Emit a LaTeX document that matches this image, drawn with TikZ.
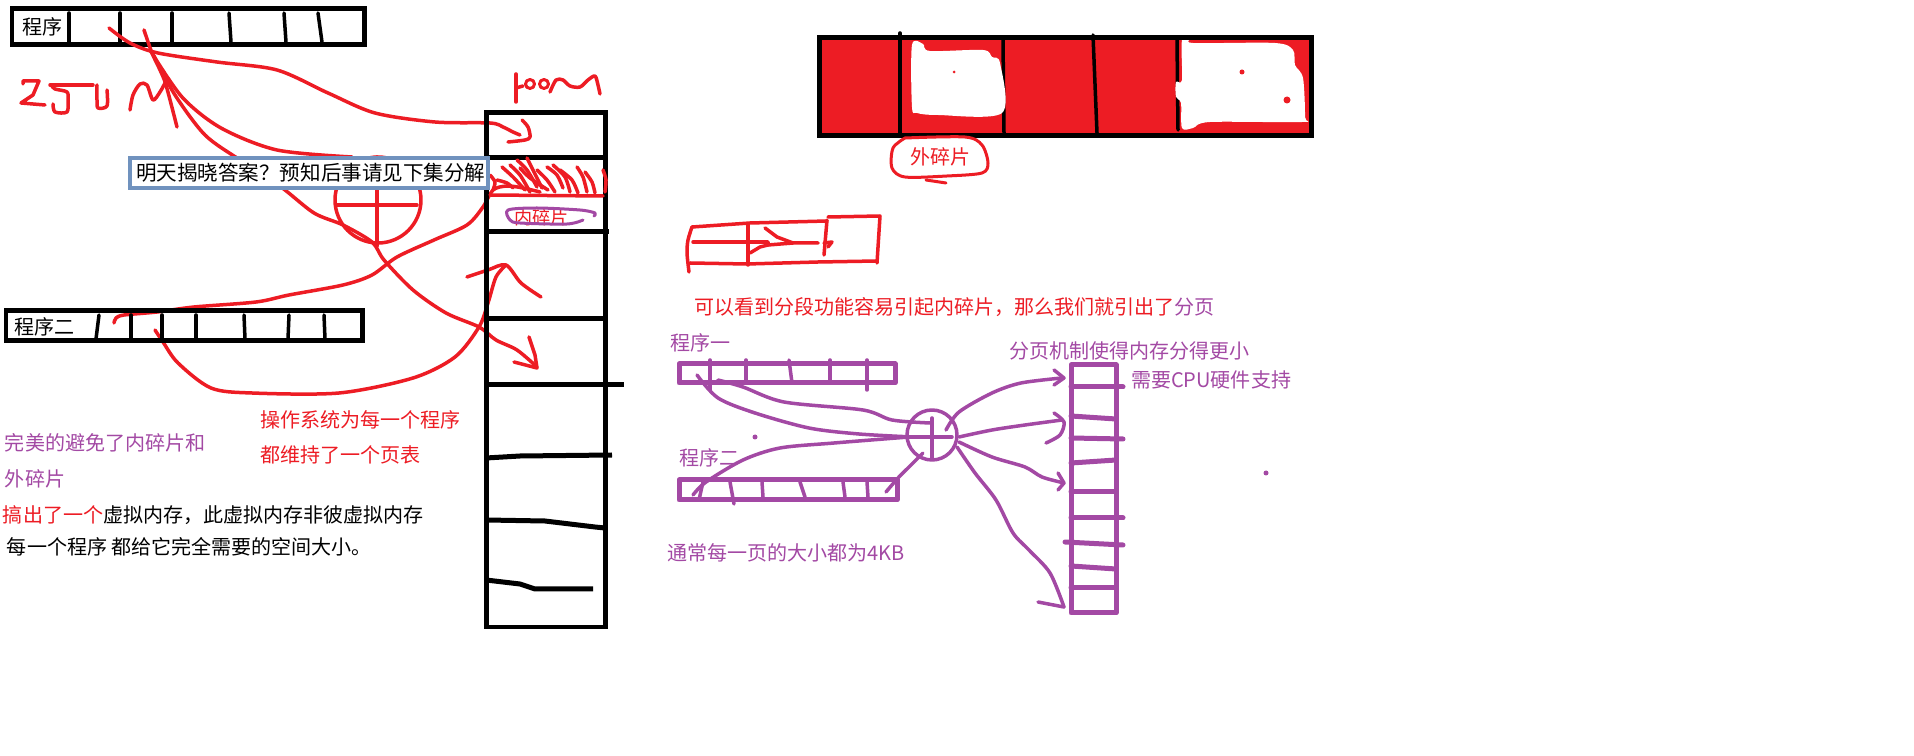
\documentclass[tikz,border=0pt]{standalone}
\usepackage{fontspec}
\setmainfont{Noto Sans CJK SC}
\definecolor{pred}{RGB}{237,28,36}
\definecolor{ppur}{RGB}{163,73,164}
\definecolor{pblue}{RGB}{112,146,190}
\begin{document}
\begin{tikzpicture}[x=0.02cm,y=-0.02cm,
  txt/.style={inner sep=0,outer sep=0,anchor=west,font=\fontsize{11.4}{13}\selectfont},
  box/.style={line width=0.1cm},
  ds/.style={line width=0.07cm,line cap=round},
  rs/.style={pred,line width=0.07cm,line cap=round,line join=round},
  ps/.style={ppur,line width=0.07cm,line cap=round,line join=round},
]
\useasboundingbox[fill=white] (0,0) rectangle (1914,756);

% ---------- top-left program box ----------
\draw[box] (12,9) rectangle (364,45);
\node[txt] (p1) at (22,27) {程序};
\foreach \a/\b in {69/69,120/120,172/172,229/231,284/286,318/322}
  \draw[ds] (\a,13) -- (\b,42);

% ---------- 250M scribble ----------
\draw[rs] (23,84) -- (23,81) -- (39,81) -- (33,95) -- (21,103) -- (45,105);
\draw[rs] (50,85) -- (93,85);
\draw[rs] plot[smooth] coordinates {(52,86) (55,89) (67,92) (68,100) (67,112) (55,112) (53,104)};
\draw[rs] plot[smooth] coordinates {(97,85) (97,100) (98,108) (107,106) (107,90)};
\draw[rs] plot[smooth] coordinates {(130,110) (133,95) (140,84) (147,85) (153,100) (160,92) (165,83)};

% ---------- red curves from program one ----------
\draw[rs] plot[smooth] coordinates {(109,28) (130,43) (158,53) (217,62) (277,70) (328,93) (375,113) (435,122) (490,123) (503,127) (513,132) (520,135)};
\draw[rs] plot[smooth] coordinates {(522,120) (528,127) (530,137) (525,140) (508,142)};
\draw[rs] plot[smooth] coordinates {(144,30) (152,53) (160,70) (166,85) (177,127)};
\draw[rs] plot[smooth] coordinates {(150,50) (182,97) (221,128) (277,150) (352,157)};
\draw[rs] plot[smooth] coordinates {(154,56) (175,95) (205,135) (240,160) (281,187) (314,213) (343,225) (372,242) (384,260) (413,290) (446,313) (479,327) (496,340) (517,350) (537,367)};
\draw[rs] (529,337) -- (535,355) -- (537,368) -- (514,362);

% ---------- red circle with cross ----------
\draw[rs] (378,200) circle[radius=0.86cm];
\draw[rs] (377,157) -- (377,246);
\draw[rs] (337,205) -- (417,205);

% ---------- curves from program two ----------
\draw[rs] plot[smooth] coordinates {(114,323) (116,318) (124,315) (157,312) (194,307) (256,302) (289,295) (343,285) (372,275) (397,257) (434,240) (467,225) (483,207) (493,190) (507,186) (523,188) (540,192)};
\draw[rs] plot[smooth] coordinates {(155,330) (163,342) (178,363) (211,388) (252,393) (339,393) (413,378) (455,357) (479,327) (488,303) (496,277) (506,265)};
\draw[rs] plot[smooth] coordinates {(467,277) (488,270) (506,265) (521,283) (541,297)};

% ---------- memory column ----------
\draw[box] (486,113) rectangle (605,627);
\draw[box] (486,158) -- (605,158);
\draw[box] (486,232) -- (609,232);
\draw[box] (486,319) -- (605,319);
\draw[box] (486,385) -- (624,385);
\draw[box] (486,458) -- (520,456) -- (612,455);
\draw[box] (486,520) -- (545,521) -- (595,527) -- (605,528);
\draw[box] (486,580) -- (520,584) -- (535,589) -- (593,589);

% hatch in second cell
\foreach \c in {
  {(502,167) (513,177) (525,190)},
  {(510,165) (520,175) (530,192)},
  {(517,160) (527,170) (537,187)},
  {(527,158) (533,170) (542,188)},
  {(537,170) (547,180) (555,192)},
  {(547,167) (557,175) (563,188)},
  {(553,165) (565,177) (570,192)},
  {(577,167) (583,177) (587,192)},
  {(585,172) (592,182) (595,193)},
  {(603,170) (606,180) (605,192)},
  {(490,175) (495,182) (493,190)},
  {(497,180) (507,183) (513,188)},
  {(520,168) (530,178) (548,190)},
  {(560,170) (572,180) (578,193)}}
  \draw[rs] plot[smooth] coordinates \c;
\draw[rs] (490,195) -- (603,196);

% 100M scribble
\draw[rs] (516,74) -- (516,102);
\draw[rs] (516,88) -- (523,86);
\draw[rs,line width=0.06cm] (530,84) circle[radius=0.09cm];
\draw[rs,line width=0.06cm] (544,84) circle[radius=0.09cm];
\draw[rs] plot[smooth] coordinates {(550,92) (556,80) (563,80) (570,86) (580,87) (588,80) (595,76) (598,85) (600,94)};

% 内碎片 label
\node[txt,text=pred,font=\fontsize{10.3}{12}\selectfont] (nei) at (514,218) {内碎片};
\draw[ps,line width=0.06cm] plot[smooth] coordinates {(594,216) (595,213) (580,210) (537,208) (508,210) (510,220) (520,223) (567,224) (583,220)};

% ---------- blue note box ----------
\node[inner sep=0,outer sep=0,draw=pblue,line width=0.08cm,fill=white,minimum width=7.16cm,minimum height=0.6cm,anchor=north west] (note) at (130,158) {};
\node[txt,font=\fontsize{11.7}{14}\selectfont] (notet) at (136,173) {明天揭晓答案？预知后事请见下集分解};

% ---------- program two box ----------
\draw[box] (6,311) rectangle (362,341);
\node[txt] (p2) at (14,327) {程序二};
\foreach \a/\b in {99/96,131/131,162/162,196/196,244/245,289/288,324/325}
  \draw[ds] (\a,315) -- (\b,339);

% ---------- left texts ----------
\node[txt,text=pred] (t1) at (260,420) {操作系统为每一个程序};
\node[txt,text=pred] (t2) at (260,455) {都维持了一个页表};
\node[txt,text=ppur] (t3) at (5,443) {完美的避免了内碎片和};
\node[txt,text=ppur] (t4) at (5,479) {外碎片};
\node[txt] (t5) at (3,515) {\textcolor{pred}{搞出了一个}虚拟内存，此虚拟内存非彼虚拟内存};
\node[txt] (t6) at (7,547) {每一个程序 都给它完全需要的空间大小。};

% ---------- top-right red block ----------
\fill[pred] (819,38) rectangle (1311,136);
\draw[ds] (900,33) -- (900,133);
\draw[ds] (1003,40) -- (1004,133);
\draw[ds] (1093,35) -- (1097,133);
\draw[ds] (1177,40) -- (1178,130);
\fill[white] plot[smooth cycle] coordinates {(912,45) (923,44) (930,51) (983,50) (992,57) (1000,63) (1002,113) (938,115) (917,113) (912,107)};
\fill[white] plot[smooth cycle] coordinates {(1182,40) (1192,38) (1193,43) (1275,43) (1293,50) (1295,65) (1303,78) (1305,117) (1302,122) (1210,122) (1193,128) (1182,128) (1181,103) (1176,97) (1176,82) (1182,80)};
\fill[pred] (1242,72) circle[radius=0.05cm];
\fill[pred] (1287,100) circle[radius=0.07cm];
\fill[pred] (954,72) circle[radius=0.03cm];
\draw[box] (819,38) rectangle (1311,136);
\node[txt,text=pred] (wai) at (910,157) {外碎片};
\draw[rs,line width=0.06cm] plot[smooth] coordinates {(905,138) (965,137) (982,145) (988,163) (982,173) (947,176) (905,177) (892,168) (893,148) (905,138)};
\draw[rs,line width=0.06cm] (926,180) -- (946,183);

% ---------- red segment sketch ----------
\draw[rs] plot[smooth] coordinates {(689,272) (687,253) (688,240) (692,227)};
\draw[rs] (692,227) -- (750,223) -- (827,221);
\draw[rs] (828,217) -- (880,216) -- (877,263);
\draw[rs] (690,263) -- (747,264) -- (818,262) -- (877,261);
\draw[rs] (748,225) -- (748,265);
\draw[rs] (827,220) -- (824,255);
\draw[rs] (824,243) -- (832,242) -- (828,247);
\draw[rs] (693,242) -- (750,242) -- (768,242) -- (768,245);
\draw[rs] (750,253) -- (760,247) -- (768,245) -- (793,243) -- (818,243);
\draw[rs] (765,228) -- (777,237) -- (793,243);

\node[txt,text=pred] (seg) at (694,307) {可以看到分段功能容易引起内碎片，那么我们就引出了\textcolor{ppur}{分页}};

% ---------- paging part (purple) ----------
\node[txt,text=ppur] (q1) at (670,343) {程序一};
\node[txt,text=ppur] (q2) at (679,458) {程序二};
\node[txt,text=ppur] (q3) at (1009,351) {分页机制使得内存分得更小};
\node[txt,text=ppur] (q4) at (1131,380) {需要CPU硬件支持};
\node[txt,text=ppur] (q5) at (667,553) {通常每一页的大小都为4KB};

\draw[ps,line width=0.1cm] (679,364) rectangle (895,383);
\foreach \a/\b/\e in {710/710/390,746/746/383,789/792/383,830/830/383,867/867/390}
  \draw[ps] (\a,360) -- (\b,\e);
\draw[ps,line width=0.1cm] (679,480) rectangle (897,500);
\foreach \a/\b/\e in {703/699/500,730/734/504,762/763/497,800/805/497,843/845/497,867/868/497}
  \draw[ps] (\a,482) -- (\b,\e);

\draw[ps] (932,435) circle[radius=0.5cm];
\draw[ps] (932,418) -- (932,458);
\draw[ps] (909,437) -- (952,437);

\draw[ps] plot[smooth] coordinates {(697,375) (718,398) (755,413) (809,428) (859,434) (913,437)};
\draw[ps] plot[smooth] coordinates {(718,380) (743,387) (784,402) (863,410) (892,420) (930,423)};
\draw[ps] plot[smooth] coordinates {(693,495) (706,482) (743,460) (780,448) (834,443) (909,437)};
\draw[ps] plot[smooth] coordinates {(886,492) (898,478) (909,467) (923,453)};

\draw[ps] plot[smooth] coordinates {(946,430) (959,412) (992,393) (1021,383) (1062,378)};
\draw[ps] (1054,370) -- (1064,378) -- (1054,385);
\draw[ps] plot[smooth] coordinates {(959,437) (992,430) (1025,425) (1062,420)};
\draw[ps] plot[smooth] coordinates {(1054,413) (1064,422) (1060,435) (1046,443)};
\draw[ps] plot[smooth] coordinates {(959,442) (992,457) (1025,467) (1042,477) (1064,483)};
\draw[ps] (1058,473) -- (1064,483) -- (1058,490);
\draw[ps] plot[smooth] coordinates {(957,447) (975,473) (996,500) (1013,533) (1029,550) (1050,573) (1064,607)};
\draw[ps] (1038,602) -- (1064,607);

\draw[ps,line width=0.1cm] (1071,365) rectangle (1116,613);
\draw[ps,line width=0.1cm] (1071,387) -- (1123,387);
\draw[ps,line width=0.1cm] (1071,416) -- (1116,419);
\draw[ps,line width=0.1cm] (1071,438) -- (1123,439);
\draw[ps,line width=0.1cm] (1071,463) -- (1116,460);
\draw[ps,line width=0.1cm] (1071,492) -- (1116,492);
\draw[ps,line width=0.1cm] (1071,518) -- (1123,518);
\draw[ps,line width=0.1cm] (1065,542) -- (1123,545);
\draw[ps,line width=0.1cm] (1071,566) -- (1116,569);
\draw[ps,line width=0.1cm] (1071,588) -- (1116,588);

\fill[ppur] (755,437) circle[radius=0.05cm];
\fill[ppur] (1266,473) circle[radius=0.05cm];
\end{tikzpicture}
\end{document}
